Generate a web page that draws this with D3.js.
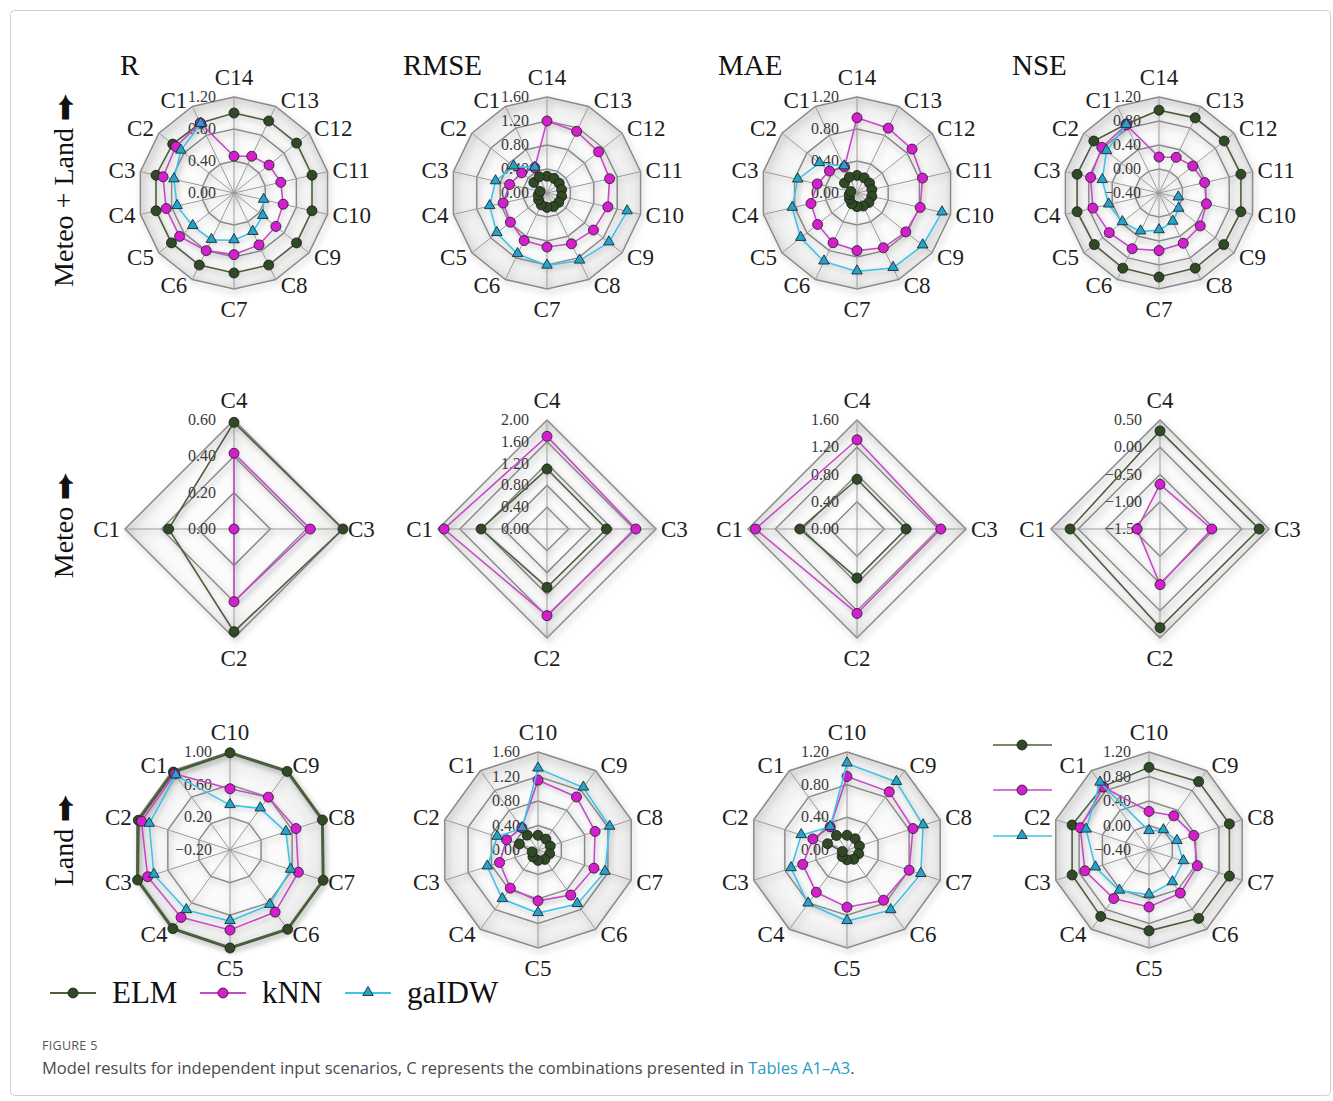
<!DOCTYPE html>
<html>
<head>
<meta charset="utf-8">
<script src="https://cdn.jsdelivr.net/npm/d3@7/dist/d3.min.js"></script>
<style>
  body { margin: 0; background: #fff; }
  svg text { font-family: "Liberation Serif", "Times New Roman", serif; }
  svg text.cap { font-family: "Open Sans", "Noto Sans", sans-serif; }
</style>
</head>
<body>
<svg id="fig" width="1333" height="1101"></svg>
<script>
// ---- categories ----
const cats14 = ["C1","C2","C3","C4","C5","C6","C7","C8","C9","C10","C11","C12","C13","C14"];
const cats4 = ["C1","C2","C3","C4"];
const cats10 = ["C1","C2","C3","C4","C5","C6","C7","C8","C9","C10"];
const metrics = ["R", "RMSE", "MAE", "NSE"];
const rowNames = ["Meteo + Land", "Meteo", "Land"];
const seriesNames = ["ELM", "kNN", "gaIDW"];

// ---- tick labels (radial axis) ----
const ticksML_R = [0, 0.4, 0.8, 1.2];
const ticksML_RMSE = [0, 0.4, 0.8, 1.2, 1.6];
const ticksML_MAE = [0, 0.4, 0.8, 1.2];
const ticksML_NSE = [-0.4, 0, 0.4, 0.8, 1.2];
const ticksM_R = [0, 0.2, 0.4, 0.6];
const ticksM_RMSE = [0, 0.4, 0.8, 1.2, 1.6, 2.0];
const ticksM_MAE = [0, 0.4, 0.8, 1.2, 1.6];
const ticksM_NSE = [-1.5, -1.0, -0.5, 0, 0.5];
const ticksL_R = [-0.2, 0.2, 0.6, 1.0];
const ticksL_RMSE = [0, 0.4, 0.8, 1.2, 1.6];
const ticksL_MAE = [0, 0.4, 0.8, 1.2];
const ticksL_NSE = [-0.4, 0, 0.4, 0.8, 1.2];

// ---- Meteo + Land (C1..C14) ----
const mlR_ELM   = [0.97, 0.98, 1.00, 1.00, 1.00, 1.00, 1.00, 1.00, 1.00, 1.00, 1.00, 1.00, 1.00, 1.00];
const mlR_kNN   = [0.97, 0.93, 0.91, 0.87, 0.87, 0.80, 0.77, 0.72, 0.67, 0.63, 0.60, 0.56, 0.51, 0.46];
const mlR_gaIDW = [0.96, 0.85, 0.77, 0.73, 0.66, 0.65, 0.59, 0.54, 0.46, 0.38, null, null, null, null];
const mlRMSE_ELM   = [0.30, 0.28, 0.12, 0.15, 0.18, 0.22, 0.24, 0.25, 0.25, 0.25, 0.25, 0.26, 0.27, 0.28];
const mlRMSE_kNN   = [0.47, 0.54, 0.64, 0.75, 0.78, 0.88, 0.90, 0.94, 0.99, 1.04, 1.07, 1.10, 1.14, 1.20];
const mlRMSE_gaIDW = [0.47, 0.71, 0.88, 0.98, 1.07, 1.13, 1.21, 1.25, 1.32, 1.37, null, null, null, null];
const mlMAE_ELM   = [0.22, 0.20, 0.08, 0.10, 0.12, 0.15, 0.17, 0.18, 0.19, 0.19, 0.19, 0.20, 0.21, 0.22];
const mlMAE_kNN   = [0.36, 0.44, 0.51, 0.59, 0.63, 0.69, 0.72, 0.76, 0.78, 0.81, 0.84, 0.88, 0.90, 0.94];
const mlMAE_gaIDW = [0.37, 0.60, 0.76, 0.83, 0.90, 0.95, 0.98, 1.04, 1.05, 1.09, null, null, null, null];
const mlNSE_ELM   = [0.87, 0.99, 1.00, 1.00, 0.98, 0.99, 1.00, 0.99, 0.98, 1.00, 1.00, 0.99, 0.99, 0.98];
const mlNSE_kNN   = [0.86, 0.82, 0.77, 0.73, 0.66, 0.63, 0.56, 0.53, 0.48, 0.41, 0.38, 0.32, 0.26, 0.20];
const mlNSE_gaIDW = [0.86, 0.72, 0.57, 0.46, 0.38, 0.31, 0.22, 0.13, 0.02, -0.07, null, null, null, null];

// ---- Meteo (C1..C4) ----
const mR_ELM = [0.36, 0.565, 0.60, 0.587];
const mR_kNN = [0.00, 0.40, 0.42, 0.417];
const mRMSE_ELM = [1.21, 1.07, 1.09, 1.10];
const mRMSE_kNN = [1.89, 1.59, 1.63, 1.70];
const mMAE_ELM = [0.84, 0.72, 0.72, 0.73];
const mMAE_kNN = [1.49, 1.24, 1.23, 1.31];
const mNSE_ELM = [0.15, 0.31, 0.32, 0.30];
const mNSE_kNN = [-1.08, -0.48, -0.55, -0.68];

// ---- Land (C1..C10) ----
const lR_ELM   = [0.98, 0.98, 0.99, 0.99, 1.00, 1.00, 1.00, 0.99, 0.99, 0.99];
const lR_kNN   = [0.95, 0.94, 0.86, 0.82, 0.78, 0.74, 0.68, 0.65, 0.60, 0.55];
const lR_gaIDW = [0.93, 0.84, 0.78, 0.71, 0.67, 0.63, 0.58, 0.52, 0.43, 0.35];
const lRMSE_ELM   = [0.30, 0.32, 0.10, 0.14, 0.17, 0.19, 0.20, 0.21, 0.22, 0.24];
const lRMSE_kNN   = [0.45, 0.54, 0.66, 0.77, 0.83, 0.91, 0.96, 0.98, 1.07, 1.14];
const lRMSE_gaIDW = [0.44, 0.70, 0.87, 0.99, 1.03, 1.09, 1.15, 1.23, 1.26, 1.33];
const lMAE_ELM   = [0.22, 0.25, 0.06, 0.10, 0.12, 0.14, 0.15, 0.16, 0.17, 0.18];
const lMAE_kNN   = [0.35, 0.44, 0.57, 0.64, 0.70, 0.76, 0.80, 0.85, 0.88, 0.90];
const lMAE_gaIDW = [0.35, 0.59, 0.72, 0.81, 0.87, 0.91, 0.95, 0.98, 1.03, 1.06];
const lNSE_ELM   = [0.88, 0.92, 0.92, 0.94, 0.92, 0.98, 0.98, 0.98, 0.98, 0.95];
const lNSE_kNN   = [0.87, 0.78, 0.70, 0.58, 0.53, 0.47, 0.43, 0.37, 0.29, 0.23];
const lNSE_gaIDW = [0.96, 0.68, 0.52, 0.42, 0.33, 0.25, 0.19, 0.08, 0.00, -0.09];

// ---- styles ----
const style = {
  ELM:   {line: "#4c5f3c", fill: "#2f4a25", marker: "circle"},
  kNN:   {line: "#c84ac6", fill: "#d41fcf", marker: "circle"},
  gaIDW: {line: "#41c2e6", fill: "#2aa2c6", marker: "triangle"}
};

const svg = d3.select("#fig");
const defs = svg.append("defs");
const sh = defs.append("filter").attr("id", "shadow")
  .attr("x", "-20%").attr("y", "-20%").attr("width", "140%").attr("height", "140%");
sh.append("feDropShadow").attr("dx", 2).attr("dy", 3).attr("stdDeviation", 3)
  .attr("flood-color", "#000").attr("flood-opacity", 0.3);
const sh2 = defs.append("filter").attr("id", "lshadow")
  .attr("x", "-20%").attr("y", "-20%").attr("width", "140%").attr("height", "140%");
sh2.append("feDropShadow").attr("dx", 2).attr("dy", 3).attr("stdDeviation", 2)
  .attr("flood-color", "#000").attr("flood-opacity", 0.2);
const rg = defs.append("radialGradient").attr("id", "bg");
rg.append("stop").attr("offset", "0%").attr("stop-color", "#ffffff");
rg.append("stop").attr("offset", "70%").attr("stop-color", "#f9f9f9");
rg.append("stop").attr("offset", "100%").attr("stop-color", "#e8e8e8");

// frame
svg.append("rect").attr("x", 10.5).attr("y", 10.5).attr("width", 1320).attr("height", 1085)
  .attr("rx", 4).attr("fill", "none").attr("stroke", "#cfcfcf");

const colX = [234, 547, 857, 1159];
const rowY = [193, 529, 850];
const rowR = [96, 109, 98];

const panels = [
  {row: 0, col: 0, cats: cats14, ticks: ticksML_R, s: {ELM: mlR_ELM, kNN: mlR_kNN, gaIDW: mlR_gaIDW}},
  {row: 0, col: 1, cats: cats14, ticks: ticksML_RMSE, s: {ELM: mlRMSE_ELM, kNN: mlRMSE_kNN, gaIDW: mlRMSE_gaIDW}},
  {row: 0, col: 2, cats: cats14, ticks: ticksML_MAE, s: {ELM: mlMAE_ELM, kNN: mlMAE_kNN, gaIDW: mlMAE_gaIDW}},
  {row: 0, col: 3, cats: cats14, ticks: ticksML_NSE, s: {ELM: mlNSE_ELM, kNN: mlNSE_kNN, gaIDW: mlNSE_gaIDW}},
  {row: 1, col: 0, cats: cats4, ticks: ticksM_R, s: {ELM: mR_ELM, kNN: mR_kNN}},
  {row: 1, col: 1, cats: cats4, ticks: ticksM_RMSE, s: {ELM: mRMSE_ELM, kNN: mRMSE_kNN}},
  {row: 1, col: 2, cats: cats4, ticks: ticksM_MAE, s: {ELM: mMAE_ELM, kNN: mMAE_kNN}},
  {row: 1, col: 3, cats: cats4, ticks: ticksM_NSE, s: {ELM: mNSE_ELM, kNN: mNSE_kNN}},
  {row: 2, col: 0, cats: cats10, ticks: ticksL_R, s: {ELM: lR_ELM, kNN: lR_kNN, gaIDW: lR_gaIDW}, thickElm: true},
  {row: 2, col: 1, cats: cats10, ticks: ticksL_RMSE, s: {ELM: lRMSE_ELM, kNN: lRMSE_kNN, gaIDW: lRMSE_gaIDW}},
  {row: 2, col: 2, cats: cats10, ticks: ticksL_MAE, s: {ELM: lMAE_ELM, kNN: lMAE_kNN, gaIDW: lMAE_gaIDW}},
  {row: 2, col: 3, cats: cats10, ticks: ticksL_NSE, s: {ELM: lNSE_ELM, kNN: lNSE_kNN, gaIDW: lNSE_gaIDW}}
];
// small x nudges
const nudge = {"2-0": -4, "2-1": -9, "2-2": -10, "2-3": -10, "1-3": 1};

function drawMarker(g, type, x, y, st) {
  if (type === "circle") {
    g.append("circle").attr("cx", x).attr("cy", y).attr("r", 5)
      .attr("fill", st.fill).attr("stroke", "#1a1a1a").attr("stroke-width", 0.8);
  } else {
    g.append("path").attr("d", d3.symbol().type(d3.symbolTriangle).size(48)())
      .attr("transform", "translate(" + x + "," + (y - 0.5) + ")")
      .attr("fill", st.fill).attr("stroke", "#10303c").attr("stroke-width", 0.9);
  }
}

function drawRadar(p) {
  const cx = colX[p.col] + (nudge[p.row + "-" + p.col] || 0);
  const cy = rowY[p.row];
  const R = rowR[p.row];
  const n = p.cats.length;
  // clockwise from the top the categories run Cn ... C1
  const order = p.cats.slice().reverse();
  const ang = d3.scaleLinear().domain([0, n]).range([0, 2 * Math.PI]);
  const rs = d3.scaleLinear().domain(d3.extent(p.ticks)).range([0, R]);

  const g = svg.append("g").attr("transform", "translate(" + cx + "," + cy + ")");

  const ring = v => d3.lineRadial().angle((d, i) => ang(i)).radius(rs(v)).curve(d3.curveLinearClosed)(order);

  g.append("path").attr("d", ring(p.ticks[p.ticks.length - 1]))
    .attr("fill", "url(#bg)").attr("stroke", "none");

  const grid = g.append("g").attr("filter", "url(#shadow)");
  p.ticks.slice(1).forEach(t => {
    grid.append("path").attr("d", ring(t)).attr("fill", "none")
      .attr("stroke", "#8a8a8a").attr("stroke-width", 1.5);
  });
  order.forEach((c, i) => {
    const pt = d3.pointRadial(ang(i), R);
    grid.append("line").attr("x1", 0).attr("y1", 0).attr("x2", pt[0]).attr("y2", pt[1])
      .attr("stroke", "#9a9a9a").attr("stroke-width", 1);
  });

  // radial tick labels
  g.selectAll("text.tick").data(p.ticks).enter().append("text")
    .attr("class", "tick")
    .attr("x", -18).attr("y", d => -rs(d) + 5)
    .attr("text-anchor", "end").attr("font-size", 16).attr("fill", "#3a3a3a")
    .text(d => d3.format(".2f")(d));

  // category labels, placed next to the outer vertex like the spreadsheet does
  order.forEach((c, i) => {
    const a = ang(i);
    const v = d3.pointRadial(a, R);
    const s = Math.sin(a), co = Math.cos(a);
    let x, y, anchor;
    if (Math.abs(s) < 0.05) {
      x = v[0]; y = v[1] - Math.sign(co) * 20; anchor = "middle";
    } else {
      x = v[0] + (s > 0 ? 5 : -5); y = v[1] - co * 7; anchor = s > 0 ? "start" : "end";
    }
    g.append("text").attr("x", x).attr("y", y)
      .attr("text-anchor", anchor).attr("dominant-baseline", "central")
      .attr("font-size", 23).attr("fill", "#1e1e1e").text(c);
  });

  // series
  seriesNames.forEach(name => {
    const vals = p.s[name];
    if (!vals) return;
    const disp = vals.slice().reverse();
    const full = disp.every(v => v != null);
    const st = style[name];
    const line = d3.lineRadial()
      .defined(d => d != null)
      .angle((d, i) => ang(i))
      .radius(d => rs(d))
      .curve(full ? d3.curveLinearClosed : d3.curveLinear);
    const sg = g.append("g");
    sg.append("path").attr("d", line(disp)).attr("fill", "none")
      .attr("stroke", st.line)
      .attr("stroke-width", (name === "ELM" && p.thickElm) ? 3 : 1.6)
      .attr("filter", "url(#lshadow)");
    disp.forEach((v, i) => {
      if (v == null) return;
      const pt = d3.pointRadial(ang(i), rs(v));
      drawMarker(sg, st.marker, pt[0], pt[1], st);
    });
  });
}

panels.forEach(drawRadar);

// metric titles
const titleX = [120, 403, 718, 1012];
metrics.forEach((m, i) => {
  svg.append("text").attr("x", titleX[i]).attr("y", 75)
    .attr("font-size", 29).attr("fill", "#111").text(m);
});

// row labels
const rowLabelY = [190, 525, 840];
rowNames.forEach((r, i) => {
  svg.append("text")
    .attr("transform", "translate(73," + rowLabelY[i] + ") rotate(-90)")
    .attr("text-anchor", "middle").attr("font-size", 28).attr("fill", "#111")
    .text(r + " \u2B95");
});

// bottom legend
const legItems = [
  {name: "ELM", x0: 50},
  {name: "kNN", x0: 200},
  {name: "gaIDW", x0: 345}
];
legItems.forEach(d => {
  const st = style[d.name];
  const lg = svg.append("g");
  lg.append("line").attr("x1", d.x0).attr("x2", d.x0 + 46).attr("y1", 993).attr("y2", 993)
    .attr("stroke", st.line).attr("stroke-width", 1.8);
  drawMarker(lg, st.marker, d.x0 + 23, 993, st);
  lg.append("text").attr("x", d.x0 + 62).attr("y", 1003).attr("font-size", 31)
    .attr("fill", "#111").text(d.name);
});

// second (unlabelled) legend near the Land NSE chart
const legY = [745, 790, 836];
seriesNames.forEach((name, i) => {
  const st = style[name];
  const lg = svg.append("g");
  lg.append("line").attr("x1", 993).attr("x2", 1052).attr("y1", legY[i]).attr("y2", legY[i])
    .attr("stroke", st.line).attr("stroke-width", 1.6);
  drawMarker(lg, st.marker, 1022, legY[i], st);
});

// caption
svg.append("text").attr("class", "cap").attr("x", 42).attr("y", 1050)
  .attr("font-size", 12.5).attr("fill", "#555").attr("letter-spacing", 0.3).text("FIGURE 5");
const cap = svg.append("text").attr("class", "cap").attr("x", 42).attr("y", 1074)
  .attr("font-size", 16.5).attr("fill", "#4a4a4a");
cap.append("tspan").text("Model results for independent input scenarios, C represents the combinations presented in ");
cap.append("tspan").attr("fill", "#2b9cc2").text("Tables A1\u2013A3");
cap.append("tspan").text(".");
</script>
</body>
</html>
